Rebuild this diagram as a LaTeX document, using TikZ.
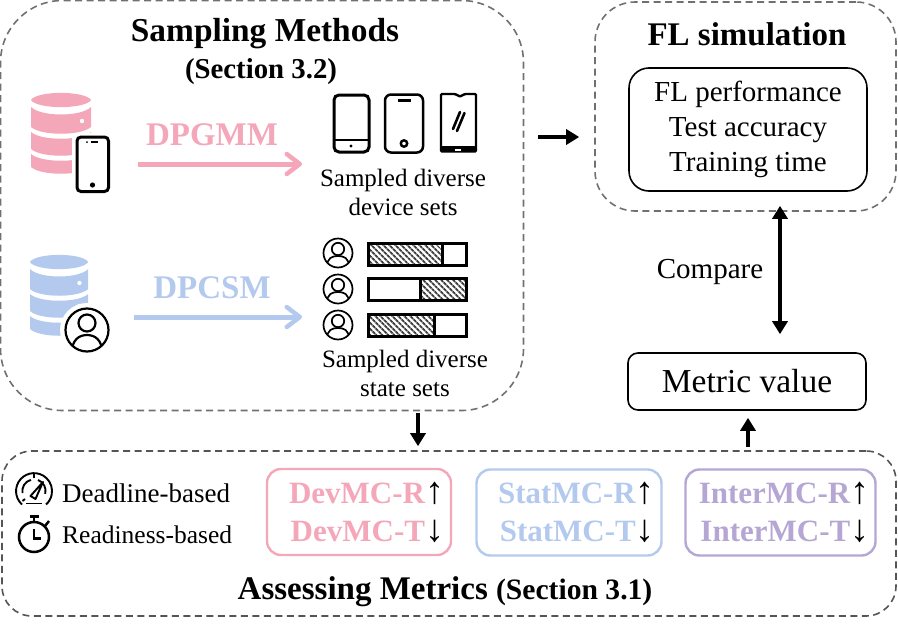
\documentclass[tikz,border=0pt]{standalone}
\usepackage{fontspec}
\setmainfont{Liberation Serif}
\usetikzlibrary{arrows.meta, patterns.meta}
\definecolor{devpink}{HTML}{F4A7B9}
\definecolor{statblue}{HTML}{B3C9EE}
\definecolor{interpurple}{HTML}{B5A6D3}
\definecolor{dashgray}{HTML}{707070}
\definecolor{dashdark}{HTML}{555555}

\newcommand{\fsize}[1]{\fontsize{#1}{#1}\selectfont}
\newcommand{\mcline}[4]{\hspace*{#1}\textcolor{#2}{#3}{\fsize{38}\mdseries #4}}

\tikzset{
  dbicon/.pic={
    \path[pic actions] (0,7) .. controls (6,-2.5) and (54,-2.5) .. (60,7)
       .. controls (54,16.5) and (6,16.5) .. (0,7) -- cycle;
    \path[pic actions] (0,14) .. controls (10,24) and (50,24) .. (60,14) -- (60,34)
       .. controls (50,43) and (10,43) .. (0,34) -- cycle;
    \path[pic actions] (0,39) .. controls (10,48) and (50,48) .. (60,39) -- (60,56)
       .. controls (50,65) and (10,65) .. (0,56) -- cycle;
    \path[pic actions] (0,61) .. controls (10,70) and (50,70) .. (60,61) -- (60,74)
       .. controls (50,83) and (10,83) .. (0,74) -- cycle;
    \fill[white] (51,28) circle (2.2);
    \fill[white] (51,51) circle (2.2);
  },
  personicon/.pic={
    \begin{scope}[line width=1.7pt]
    \draw (0,0) circle (14.5);
    \draw (0,-4) circle (6.2);
    \begin{scope}
      \clip (0,0) circle (14.5);
      \draw (-11,14) .. controls (-11,5) and (-6,3) .. (0,3) .. controls (6,3) and (11,5) .. (11,14);
    \end{scope}
    \end{scope}
  },
}

\begin{document}
\begin{tikzpicture}[
  x=1pt, y=-1pt,
  outerbox/.style={rectangle, draw=dashgray, dashed, dash pattern=on 7pt off 4.5pt,
              line width=1.6pt, inner sep=0pt},
  blackbox/.style={rectangle, draw=black, line width=1.6pt, align=center, inner sep=0pt},
  metricbox/.style={rectangle, line width=2.4pt, rounded corners=14pt, align=right,
              minimum width=184pt, minimum height=86pt, inner sep=0pt,
              font=\fsize{31}\bfseries},
  lab/.style={align=center, font=\fsize{25}, inner sep=0pt},
  head/.style={align=center, font=\fsize{33.4}\bfseries, inner sep=0pt},
  bigarrow/.style={line width=4.5pt, -{Triangle[length=13pt,width=15pt]}},
  softarrow/.style={line width=5pt, -{Straight Barb[length=13pt,width=20pt,round,line width=4.5pt]}},
  phoneline/.style={draw=black, line width=3pt, rounded corners=5pt},
  hatchbar/.style={pattern={Lines[angle=-45,distance=4pt,line width=2pt]}, pattern color=black!75},
  plainbar/.style={draw=black, line width=3pt},
]
\useasboundingbox (0,0) rectangle (898,627);

% dashed group boxes
\node[outerbox, minimum width=523pt, minimum height=410pt, rounded corners=62pt] (sampling) at (262,205.5) {};
\node[outerbox, minimum width=301pt, minimum height=209pt, rounded corners=40pt] (flsim) at (745.5,106.5) {};
\node[outerbox, draw=dashdark, minimum width=894pt, minimum height=165pt, rounded corners=30pt] (assess) at (449,533.5) {};

\node[head] (samplingtitle) at (265,34) {Sampling Methods};
\node[head, font=\fsize{28.8}\bfseries] (samplingsec) at (261,72) {(Section 3.2)};
\node[head, font=\fsize{33}\bfseries] (fltitle) at (747,34) {FL simulation};

\node[blackbox, rounded corners=20pt, minimum width=238pt, minimum height=123pt, font=\fsize{29}] (flperf) at (748,129.5)
  {FL performance\\[6pt]Test accuracy\\[6pt]Training time};
\node[blackbox, rounded corners=10pt, minimum width=238pt, minimum height=57pt, font=\fsize{33.5}] (metric) at (747,381.5) {Metric value};
\node[lab, font=\fsize{29}] (compare) at (710,272) {Compare};

% databases with their badges
\pic[fill=devpink] (dbdev) at (31,93) {dbicon};
\pic[fill=statblue,xscale=0.97] (dbstat) at (30,255) {dbicon};
\fill[white, rounded corners=5pt] (72,133) rectangle (113,196);
\draw[phoneline, rounded corners=4pt] (77,137) rectangle (108.5,191.5);
\draw[line width=1.6pt] (91,142) -- (98,142);
\fill (87,142) circle (1);
\fill (92.5,185) circle (2.6);
\fill[white] (87,330) circle (27);
\draw[line width=2.2pt] (87,330) circle (21.5);
\draw[line width=2.2pt] (87,323) circle (8.5);
\begin{scope}
  \clip (87,330) circle (21);
  \draw[line width=2.2pt] (72,352) .. controls (72,340) and (79,335) .. (87,335) .. controls (95,335) and (102,340) .. (102,352);
\end{scope}

\node[head, text=devpink, font=\fsize{33}\bfseries] (dpgmm) at (212,135) {DPGMM};
\node[head, text=statblue, font=\fsize{33}\bfseries] (dpcsm) at (212,288) {DPCSM};
\coordinate (devstart) at (138,164);
\coordinate (devend) at (302,164);
\coordinate (statstart) at (134,317);
\coordinate (statend) at (302,317);
\draw[softarrow, draw=devpink] (devstart) -- (devend);
\draw[softarrow, draw=statblue] (statstart) -- (statend);

% phones
\draw[phoneline] (334,95) rectangle (369,152);
\draw[line width=2.4pt] (334,140) -- (369,140);
\fill (351,146) circle (1.7);
\draw[phoneline, line width=2.5pt, rounded corners=6pt] (385,94.5) rectangle (423,152.5);
\draw[line width=2.4pt] (397.5,100.5) -- (411,100.5);
\draw[line width=2.4pt] (404,143.5) circle (3.2);
\draw[line width=2.4pt, rounded corners=1pt] (441,94) -- (455,94) -- (460,96.5) -- (465,94) -- (476,94) -- (476,151.5) -- (441,151.5) -- cycle;
\fill (441,146) rectangle (476,152);
\fill[white] (455,149) rectangle (461,151);
\draw[line width=2.6pt, line cap=round] (453,129) -- (460,112);
\draw[line width=2.6pt, line cap=round] (457,131) -- (464.5,113);

\node[lab] (devsets) at (403,192) {Sampled diverse\\[4pt]device sets};
\node[lab] (statesets) at (405,373) {Sampled diverse\\[4pt]state sets};

% state bars
\foreach \py/\ytop/\xmid/\hatched in {253/243/442/0, 289/278/420/1, 325/314/434/0}{
  \pic at (338,\py) {personicon};
  \ifnum\hatched=0
    \path[hatchbar] (368,\ytop) rectangle (\xmid,\ytop+22);
  \else
    \path[hatchbar] (\xmid,\ytop) rectangle (466,\ytop+22);
  \fi
  \draw[plainbar] (368,\ytop) rectangle (466,\ytop+22);
  \draw[plainbar] (\xmid,\ytop) -- (\xmid,\ytop+22);
}

% assessing metrics row
\begin{scope}[shift={(34,491)}, line width=1.9pt]
  \draw (-12,13.5) arc[start angle=132, end angle=408, radius=18];
  \draw (-9,8) -- (-11.5,10);
  \draw (-11.5,2) arc[start angle=170, end angle=255, radius=11.5];
  \draw (4,-11) arc[start angle=290, end angle=375, radius=11.5];
  \draw (0,-18) -- (0,-13);
  \draw (-8,12.5) -- (8,12.5);
  \draw[line join=round] (-3.5,5) -- (9,-9) -- (1.5,8) -- cycle;
\end{scope}
\begin{scope}[shift={(34,537)}, line width=2.5pt]
  \draw (0,0) circle (15);
  \draw (-4.5,-20.5) -- (4.5,-20.5) (0,-20.5) -- (0,-15);
  \draw (11,-11) -- (15,-16);
  \draw (0,-8) -- (0,1.5) -- (7,1.5);
\end{scope}
\node[lab, anchor=west, font=\fsize{27}] (deadline) at (62,493) {Deadline-based};
\node[lab, anchor=west, font=\fsize{25.5}] (readiness) at (62,535) {Readiness-based};

\node[metricbox, draw=devpink, minimum width=184pt] (devmc) at (359,512)
  {\mcline{15pt}{devpink}{DevMC-R}{↑}\\[7pt]\mcline{15pt}{devpink}{DevMC-T}{↓}};
\node[metricbox, draw=statblue, minimum width=185pt] (statmc) at (569,512.5)
  {\mcline{15pt}{statblue}{StatMC-R}{↑}\\[7pt]\mcline{15pt}{statblue}{StatMC-T}{↓}};
\node[metricbox, draw=interpurple, minimum width=190pt] (intermc) at (780.5,512.5)
  {\mcline{7pt}{interpurple}{InterMC-R}{↑}\\[7pt]\mcline{7pt}{interpurple}{InterMC-T}{↓}};
\node[head, font=\fsize{33}\bfseries] (assesstitle) at (445,592) {Assessing Metrics {\fsize{29.6}(Section 3.1)}};

% black connectors
\draw[bigarrow] ([yshift=68.5pt,xshift=14pt]sampling.east) -- ([yshift=-30.5pt,xshift=-15pt]flsim.west);
\draw[bigarrow, {Triangle[length=13pt,width=15pt]}-{Triangle[length=13pt,width=15pt]}]
  ([xshift=34.5pt,yshift=6pt]flsim.south) -- ([xshift=33pt,yshift=18pt]metric.north);
\draw[bigarrow] ([xshift=156pt,yshift=-2pt]sampling.south) -- ([xshift=-31pt,yshift=4pt]assess.north);
\draw[bigarrow] ([xshift=299pt,yshift=3pt]assess.north) -- ([xshift=1pt,yshift=-7pt]metric.south);
\end{tikzpicture}
\end{document}
